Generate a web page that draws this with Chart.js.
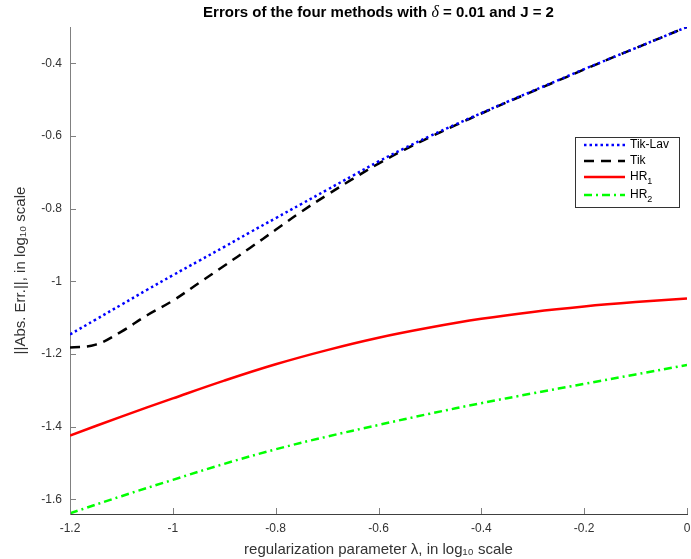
<!DOCTYPE html>
<html>
<head>
<meta charset="utf-8">
<script src="https://cdn.jsdelivr.net/npm/chart.js@4.4.1/dist/chart.umd.min.js"></script>
<style>
  html, body { margin: 0; padding: 0; background: #fff; }
  #wrap { width: 691px; height: 559px; }
</style>
</head>
<body>
<div id="wrap"><canvas id="myChart"></canvas></div>
<script>
// lambda grid (log10) and errors (log10)
const lambdaFine = [-1.2, -1.15, -1.1, -1.05, -1.0, -0.95, -0.9, -0.85, -0.8, -0.75, -0.7, -0.65, -0.6,
                    -0.55, -0.5, -0.45, -0.4, -0.35, -0.3, -0.25, -0.2, -0.15, -0.1, -0.05, 0];
const tikLav = [-1.146, -1.105, -1.064, -1.023, -0.983, -0.944, -0.905, -0.865, -0.826, -0.787, -0.748, -0.709, -0.670,
                -0.634, -0.600, -0.568, -0.537, -0.506, -0.476, -0.446, -0.416, -0.387, -0.358, -0.329, -0.300];
const tik = [-1.182, -1.174, -1.138, -1.093, -1.053, -1.005, -0.957, -0.908, -0.858, -0.808, -0.762, -0.718, -0.676,
             -0.638, -0.603, -0.570, -0.538, -0.507, -0.477, -0.447, -0.417, -0.387, -0.358, -0.329, -0.300];

const lambdaCoarse = [-1.2, -1.1, -1.0, -0.9, -0.8, -0.7, -0.6, -0.5, -0.4, -0.3, -0.2, -0.1, 0];
const hr1 = [-1.424, -1.372, -1.322, -1.273, -1.228, -1.189, -1.155, -1.127, -1.103, -1.084, -1.069, -1.057, -1.047];
const hr2 = [-1.638, -1.591, -1.546, -1.502, -1.462, -1.427, -1.395, -1.364, -1.335, -1.308, -1.282, -1.256, -1.230];

const xTicks = [-1.2, -1, -0.8, -0.6, -0.4, -0.2, 0];
const yTicks = [-1.6, -1.4, -1.2, -1, -0.8, -0.6, -0.4];

const etiquetas = ['Tik-Lav', 'Tik', 'HR', 'HR'];
const subindices = ['', '', '1', '2'];

function puntos(xs, ys) {
    return xs.map((x, i) => ({ x: x, y: ys[i] }));
}

function fmt(v) {
    return String(Number(v.toFixed(1)));
}

const FUENTE = '"Liberation Sans", Arial, sans-serif';

// title centred over the plot, delta in italic serif
const titulo = {
    id: 'titulo',
    afterDraw(chart) {
        const ctx = chart.ctx;
        const a = chart.chartArea;
        const partes = [
            ['Errors of the four methods with ', 'bold 15px ' + FUENTE],
            ['\u03b4', 'italic 16px "Liberation Serif", "DejaVu Serif", serif'],
            [' = 0.01 and J = 2', 'bold 15px ' + FUENTE]
        ];
        ctx.save();
        let total = 0;
        partes.forEach(p => { ctx.font = p[1]; total += ctx.measureText(p[0]).width; });
        let x = (a.left + a.right) / 2 - total / 2;
        ctx.fillStyle = '#000';
        ctx.textBaseline = 'middle';
        ctx.textAlign = 'left';
        partes.forEach(p => {
            ctx.font = p[1];
            ctx.fillText(p[0], x, 13);
            x += ctx.measureText(p[0]).width;
        });
        ctx.restore();
    }
};

// inward ticks like the original figure
const ticksAdentro = {
    id: 'ticksAdentro',
    afterDatasetsDraw(chart) {
        const ctx = chart.ctx;
        const a = chart.chartArea;
        ctx.save();
        ctx.lineWidth = 1;
        ctx.strokeStyle = '#808080';
        chart.scales.y.ticks.forEach(t => {
            const py = Math.round(chart.scales.y.getPixelForValue(t.value)) + 0.5;
            ctx.beginPath();
            ctx.moveTo(a.left, py);
            ctx.lineTo(a.left + 6, py);
            ctx.stroke();
        });
        chart.scales.x.ticks.forEach(t => {
            const px = Math.round(chart.scales.x.getPixelForValue(t.value)) + 0.5;
            ctx.beginPath();
            ctx.moveTo(px, a.bottom);
            ctx.lineTo(px, a.bottom - 6);
            ctx.stroke();
        });
        ctx.restore();
    }
};

// legend box inside the plot, right side
const leyenda = {
    id: 'leyenda',
    afterDraw(chart) {
        const ctx = chart.ctx;
        const a = chart.chartArea;
        const x0 = a.right - 112, y0 = a.top + 110, w = 104, h = 70;
        ctx.save();
        ctx.fillStyle = '#fff';
        ctx.fillRect(x0, y0, w, h);
        ctx.strokeStyle = '#333';
        ctx.lineWidth = 1;
        ctx.strokeRect(x0 + 0.5, y0 + 0.5, w, h);
        const filas = [8, 24, 40, 58];
        chart.data.datasets.forEach((ds, i) => {
            const y = y0 + filas[i];
            ctx.beginPath();
            ctx.strokeStyle = ds.borderColor;
            ctx.lineWidth = ds.borderWidth;
            ctx.setLineDash(ds.borderDash || []);
            ctx.moveTo(x0 + 9, y);
            ctx.lineTo(x0 + 50, y);
            ctx.stroke();
            ctx.setLineDash([]);
            ctx.fillStyle = '#000';
            ctx.font = '12px ' + FUENTE;
            ctx.textBaseline = 'middle';
            ctx.textAlign = 'left';
            ctx.fillText(etiquetas[i], x0 + 55, y);
            if (subindices[i]) {
                const tw = ctx.measureText(etiquetas[i]).width;
                ctx.font = '9px ' + FUENTE;
                ctx.fillText(subindices[i], x0 + 55 + tw, y + 5);
            }
        });
        ctx.restore();
    }
};

const ctx = document.getElementById('myChart');

const myChart = new Chart(ctx, {
    type: 'line',
    data: {
        datasets: [{
            label: 'Tik-Lav',
            data: puntos(lambdaFine, tikLav),
            borderColor: '#0000ff',
            borderWidth: 2.5,
            borderDash: [2.5, 3],
            pointRadius: 0,
            tension: 0.4
        }, {
            label: 'Tik',
            data: puntos(lambdaFine, tik),
            borderColor: '#000000',
            borderWidth: 2.5,
            borderDash: [10, 7],
            pointRadius: 0,
            tension: 0.4
        }, {
            label: 'HR1',
            data: puntos(lambdaCoarse, hr1),
            borderColor: '#ff0000',
            borderWidth: 2.5,
            pointRadius: 0,
            tension: 0.4
        }, {
            label: 'HR2',
            data: puntos(lambdaCoarse, hr2),
            borderColor: '#00ff00',
            borderWidth: 2.5,
            borderDash: [8, 4, 2, 4],
            pointRadius: 0,
            tension: 0.4
        }]
    },
    options: {
        responsive: true,
        maintainAspectRatio: false,
        animation: false,
        layout: { padding: { left: 0, right: 4, top: 27, bottom: 0 } },
        plugins: {
            legend: { display: false },
            tooltip: { enabled: false },
            title: { display: false }
        },
        scales: {
            x: {
                type: 'linear',
                min: -1.2,
                max: 0,
                afterBuildTicks: s => { s.ticks = xTicks.map(v => ({ value: v })); },
                afterFit: s => { s.height = 45; s.paddingRight = 0; s.paddingLeft = 0; },
                grid: { display: false, drawTicks: false },
                border: { display: true, color: '#404040', width: 1 },
                ticks: {
                    callback: v => fmt(v),
                    color: '#333',
                    padding: 7,
                    maxRotation: 0,
                    font: { family: FUENTE, size: 12 }
                },
                title: {
                    display: true,
                    text: 'regularization parameter \u03bb, in log\u2081\u2080 scale',
                    color: '#333',
                    padding: { top: 1, bottom: 0 },
                    font: { family: FUENTE, size: 15 }
                }
            },
            y: {
                type: 'linear',
                min: -1.64,
                max: -0.3,
                afterBuildTicks: s => { s.ticks = yTicks.map(v => ({ value: v })); },
                afterFit: s => { s.width = 70; s.paddingTop = 0; s.paddingBottom = 0; },
                grid: { display: false, drawTicks: false },
                border: { display: true, color: '#808080', width: 1 },
                ticks: {
                    callback: v => fmt(v),
                    color: '#333',
                    padding: 8,
                    font: { family: FUENTE, size: 12 }
                },
                title: {
                    display: true,
                    text: '||Abs. Err.||, in log\u2081\u2080 scale',
                    color: '#333',
                    padding: { top: 12, bottom: 4 },
                    font: { family: FUENTE, size: 15 }
                }
            }
        }
    },
    plugins: [ticksAdentro, leyenda, titulo]
});
</script>
</body>
</html>
